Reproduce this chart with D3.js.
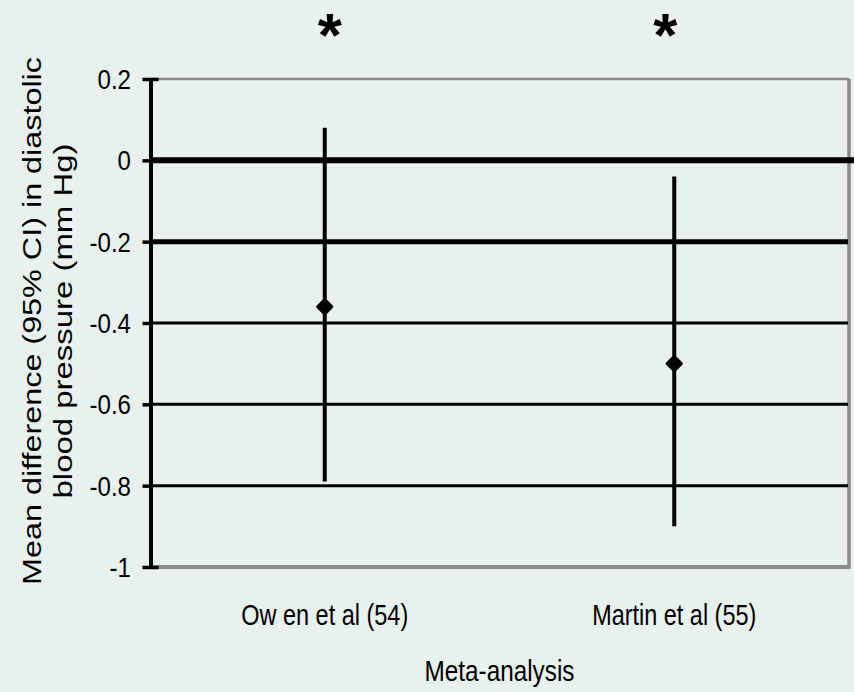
<!DOCTYPE html>
<html>
<head>
<meta charset="utf-8">
<script src="https://cdn.jsdelivr.net/npm/d3@7"></script>
<style>
  html, body { margin: 0; padding: 0; background: #e8f1ee; }
  svg { display: block; }
  text { font-family: "Liberation Sans", Arial, Helvetica, sans-serif; fill: #000; }
</style>
</head>
<body>
<svg id="chart" width="854" height="692"></svg>
<script>
// Meta-analyses of breastfeeding and later diastolic blood pressure
const studies = ["Ow en et al (54)", "Martin et al (55)"];
const meanDiff = [-0.36, -0.50];
const ciLower = [-0.79, -0.90];
const ciUpper = [0.08, -0.04];
const significance = ["*", "*"];
const yTicks = [0.2, 0, -0.2, -0.4, -0.6, -0.8, -1];
const yTickLabels = ["0.2", "0", "-0.2", "-0.4", "-0.6", "-0.8", "-1"];
const yTitleLines = ["Mean difference (95% CI) in diastolic", "blood pressure (mm Hg)"];
const xTitle = "Meta-analysis";

const svg = d3.select("#chart");
const W = 854, H = 692;
const plot = { left: 150, right: 849, top: 79, bottom: 567 };

svg.append("rect").attr("width", W).attr("height", H).attr("fill", "#e8f1ee");

const x = d3.scaleBand().domain(studies).range([plot.left, plot.right]).padding(0);
const y = d3.scaleLinear().domain([-1, 0.2]).range([plot.bottom, plot.top]);

// plot frame (grey top, right and bottom edges)
const frame = svg.append("g").attr("fill", "none").attr("stroke", "#8a8a8a");
frame.append("line").attr("x1", plot.left).attr("x2", plot.right)
  .attr("y1", y(0.2)).attr("y2", y(0.2)).attr("stroke-width", 2.5);
frame.append("line").attr("x1", plot.left).attr("x2", plot.right + 1.5)
  .attr("y1", y(-1)).attr("y2", y(-1)).attr("stroke-width", 4);
frame.append("line").attr("x1", plot.right).attr("x2", plot.right)
  .attr("y1", y(0.2)).attr("y2", y(-1)).attr("stroke-width", 3.5);

// horizontal gridlines
const gridWidth = v => (v === 0 ? 6 : v === -0.2 ? 5 : 3);
svg.append("g").selectAll("line")
  .data(yTicks.filter(v => v < 0.2 && v > -1))
  .join("line")
  .attr("x1", plot.left)
  .attr("x2", v => (v === 0 ? W : plot.right - 1))
  .attr("y1", v => y(v)).attr("y2", v => y(v))
  .attr("stroke", "#000")
  .attr("stroke-width", gridWidth);

// y axis
const yAxis = d3.axisLeft(y).tickValues(yTicks).tickSize(8).tickSizeOuter(0).tickFormat("");
const ax = svg.append("g").attr("transform", `translate(${plot.left + 0.5},0)`).call(yAxis);
ax.select(".domain").attr("stroke", "#000").attr("stroke-width", 4);
ax.selectAll(".tick line").attr("stroke", "#000").attr("stroke-width", 3.5)
  .attr("x2", -8).attr("x1", d => (d === 0.2 || d === -1 ? 8 : 0));

// tick labels
svg.append("g").selectAll("text")
  .data(yTicks)
  .join("text")
  .attr("transform", d => `translate(131,${y(d)}) scale(0.86,1)`)
  .attr("text-anchor", "end")
  .attr("dy", "0.36em")
  .attr("font-size", 28)
  .text((d, i) => yTickLabels[i]);

// confidence intervals
const cx = s => x(s) + x.bandwidth() / 2;
svg.append("g").selectAll("line")
  .data(studies)
  .join("line")
  .attr("x1", cx).attr("x2", cx)
  .attr("y1", (s, i) => y(ciUpper[i]))
  .attr("y2", (s, i) => y(ciLower[i]))
  .attr("stroke", "#000").attr("stroke-width", 4);

// point estimates (diamonds with slightly rounded corners)
const diamond = d3.symbol().type(d3.symbolDiamond2).size(130);
svg.append("g").selectAll("path")
  .data(studies)
  .join("path")
  .attr("d", diamond)
  .attr("transform", (s, i) => `translate(${cx(s)},${y(meanDiff[i])})`)
  .attr("fill", "#000")
  .attr("stroke", "#000")
  .attr("stroke-width", 3)
  .attr("stroke-linejoin", "round");

// significance markers above the plot
svg.append("g").selectAll("text")
  .data(studies)
  .join("text")
  .attr("x", (s, i) => cx(s) + (i === 0 ? 5 : -9))
  .attr("y", 56)
  .attr("text-anchor", "middle")
  .attr("font-family", "'Liberation Serif', 'Times New Roman', serif")
  .attr("font-weight", "bold")
  .attr("font-size", 62)
  .text((s, i) => significance[i]);

// category labels
svg.append("g").selectAll("text")
  .data(studies)
  .join("text")
  .attr("x", cx)
  .attr("y", 625)
  .attr("text-anchor", "middle")
  .attr("font-size", 30)
  .attr("textLength", (s, i) => (i === 0 ? 167 : 164))
  .attr("lengthAdjust", "spacingAndGlyphs")
  .text(s => s);

// x axis title
svg.append("text")
  .attr("x", (plot.left + plot.right) / 2)
  .attr("y", 681)
  .attr("text-anchor", "middle")
  .attr("font-size", 30)
  .attr("textLength", 150)
  .attr("lengthAdjust", "spacingAndGlyphs")
  .text(xTitle);

// y axis title, two rotated lines
const yTitle = svg.append("g").attr("transform", "translate(0,321)");
yTitle.append("text")
  .attr("transform", "translate(41,0) rotate(-90)")
  .attr("text-anchor", "middle")
  .attr("font-size", 26)
  .attr("textLength", 528)
  .attr("lengthAdjust", "spacingAndGlyphs")
  .text(yTitleLines[0]);
yTitle.append("text")
  .attr("transform", "translate(72,0) rotate(-90)")
  .attr("text-anchor", "middle")
  .attr("font-size", 26)
  .attr("textLength", 355)
  .attr("lengthAdjust", "spacingAndGlyphs")
  .text(yTitleLines[1]);
</script>
</body>
</html>
